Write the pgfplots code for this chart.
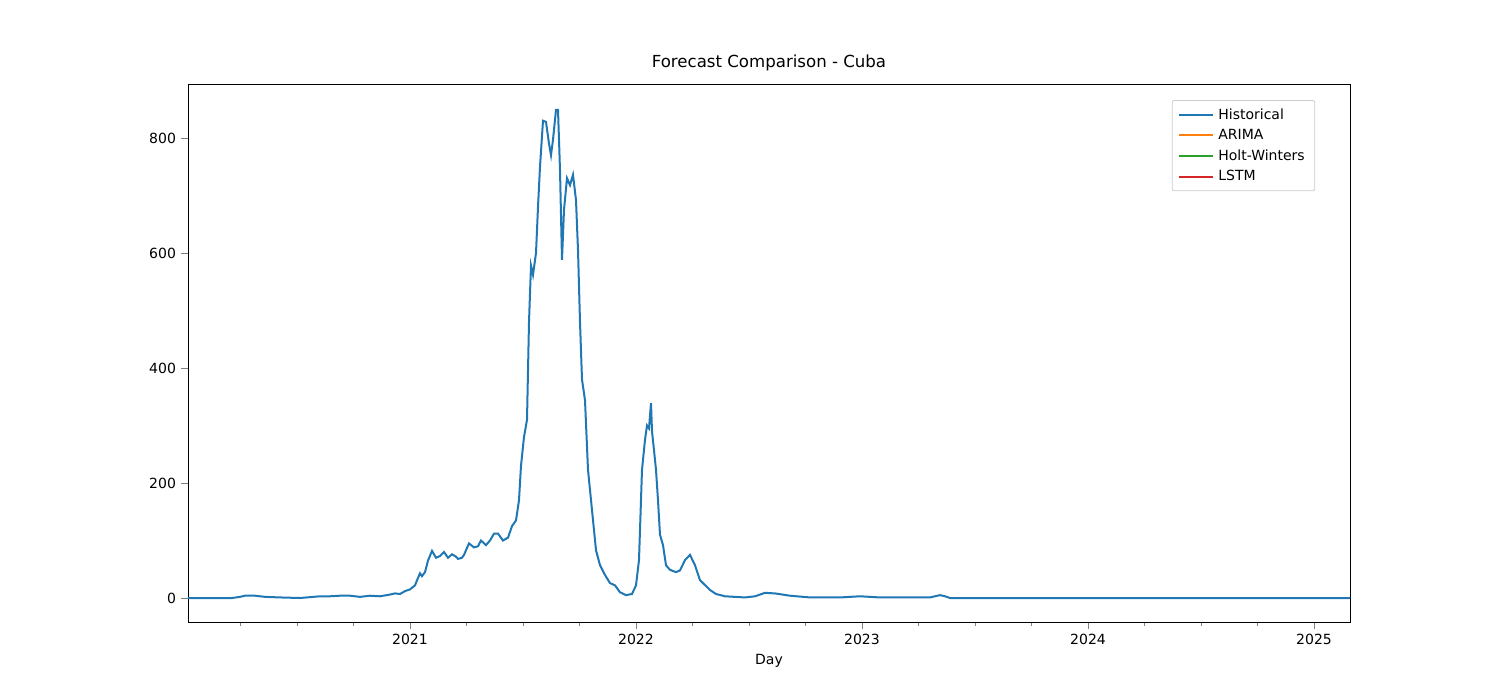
\documentclass[border=0pt]{standalone}
\usepackage{pgfplots}
\pgfplotsset{compat=1.18}
\usepackage{fontspec}
\setmainfont{DejaVu Sans}
\definecolor{c0}{HTML}{1F77B4}
\definecolor{c1}{HTML}{FF7F0E}
\definecolor{c2}{HTML}{2CA02C}
\definecolor{c3}{HTML}{D62728}
\begin{document}
\fontsize{7}{8.4}\selectfont
\begin{tikzpicture}
\path[use as bounding box] (-94pt,-39pt) rectangle (656pt,311pt);
\begin{axis}[at={(0,0)},anchor=south west,scale only axis,width=581pt,height=269pt,
 xmin=188,xmax=1350,ymin=-41.7,ymax=893.9,
 xtick={410,636,862,1088,1314},xticklabels={2021,2022,2023,2024,2025},
 minor xtick={240.5,297,353.5,466.5,523,579.5,692.5,749,805.5,918.5,975,1031.5,1144.5,1201,1257.5},
 ytick={0,200,400,600,800},
 tick align=outside,tick pos=left,major tick length=3.5pt,minor tick length=2pt,
 /pgf/number format/assume math mode=true,
 tick label style={font=\fontsize{7}{8.4}\selectfont},
 xlabel={Day},title={Forecast Comparison - Cuba},
 title style={font=\fontsize{8.3}{9}\selectfont,yshift=-2pt},
 legend pos=north east,legend cell align=left,
 legend style={font=\fontsize{7}{8.4}\selectfont,draw=black!20,rounded corners=1pt},
 every axis plot/.style={line width=1pt}]
\addplot[c0,line width=1pt] coordinates {
(188,0)(232,0)(240,2)(245,4)(255,4)(265,2)(280,1)(300,0)(320,3)(330,3)(340,4)(350,4)(360,2)(370,4)(380,3)(390,6)(395,8)(400,7)(405,12)(410,15)(415,22)(418,35)(420,43)(422,38)(425,45)(428,65)(432,82)(436,70)(440,73)(444,80)(448,70)(452,76)(456,72)(458,68)(462,70)(464,75)(469,95)(474,88)(478,90)(481,100)(486,92)(490,100)(494,112)(498,112)(503,100)(508,105)(512,125)(516,135)(519,170)(521,230)(524,280)(527,310)(529,480)(531,578)(533,562)(536,600)(538,680)(540,750)(543,830)(546,828)(549,790)(551,770)(553,797)(556,849)(558,849)(560,744)(562,588)(564,675)(567,730)(570,718)(573,736)(576,692)(578,605)(580,480)(582,380)(585,344)(588,223)(592,153)(596,83)(600,57)(605,40)(610,26)(615,22)(620,10)(626,5)(632,7)(636,22)(639,66)(642,223)(645,275)(647,300)(649,295)(651,339)(652,290)(654,257)(656,223)(658,170)(660,110)(663,92)(666,57)(670,49)(676,45)(680,48)(685,66)(690,75)(695,57)(700,31)(710,14)(716,7)(725,3)(745,1)(755,3)(765,9)(775,8)(790,4)(810,1)(840,1)(860,3)(880,1)(930,1)(940,5)(945,3)(950,0)(1350,0)};
\addlegendentry{Historical}
\addlegendimage{c1,line width=1pt}\addlegendentry{ARIMA}
\addlegendimage{c2,line width=1pt}\addlegendentry{Holt-Winters}
\addlegendimage{c3,line width=1pt}\addlegendentry{LSTM}
\end{axis}
\end{tikzpicture}
\end{document}
